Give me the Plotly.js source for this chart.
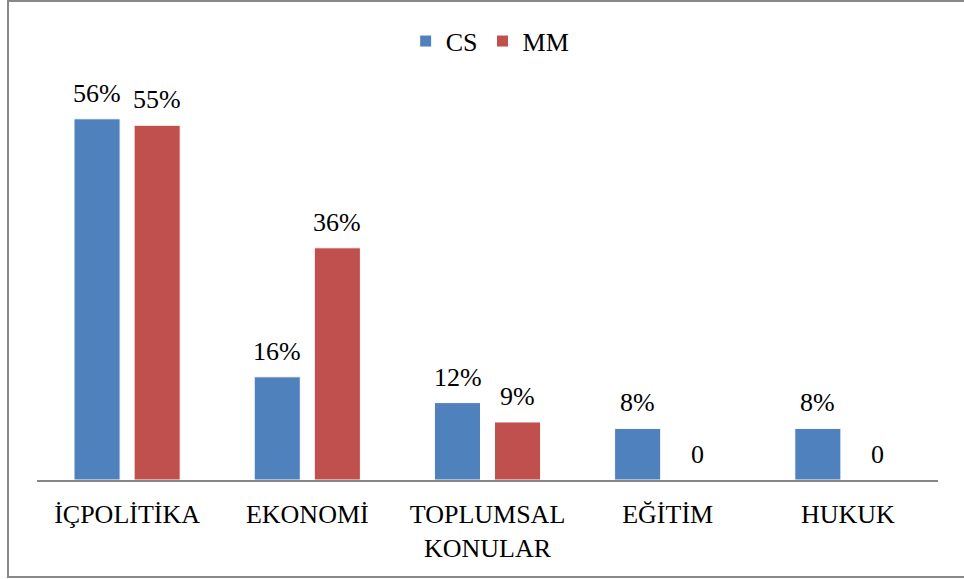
<!DOCTYPE html>
<html>
<head>
<meta charset="utf-8">
<script src="https://cdn.plot.ly/plotly-3.0.1.min.js"></script>
<style>
  html, body { margin: 0; padding: 0; background: #fff; }
  #chart { width: 964px; height: 579px; }
</style>
</head>
<body>
<div id="chart"></div>
<script>
const categories = ["İÇPOLİTİKA", "EKONOMİ", "TOPLUMSAL<br>KONULAR", "EĞİTİM", "HUKUK"];
const csValues = [56, 16, 12, 8, 8];
const mmValues = [55, 36, 9, 0, 0];
const csLabels = ["56%", "16%", "12%", "8%", "8%"];
const mmLabels = ["55%", "36%", "9%", "0", "0"];

const FONT = "Liberation Serif";
const BLUE = '#4F81BD';
const RED = '#C0504D';

const traces = [
  {
    type: 'bar', name: 'CS', x: categories, y: csValues,
    marker: { color: BLUE, line: { color: '#ffffff', width: 1 } },
    hoverinfo: 'skip'
  },
  {
    type: 'bar', name: 'MM', x: categories, y: mmValues,
    marker: { color: RED, line: { color: '#ffffff', width: 1 } },
    hoverinfo: 'skip'
  }
];

const annotations = [];
categories.forEach((c, i) => {
  annotations.push({
    x: c, y: csValues[i], xref: 'x', yref: 'y', text: csLabels[i],
    showarrow: false, xanchor: 'center', yanchor: 'bottom',
    xshift: -30, yshift: 9, font: { family: FONT, size: 26, color: '#000' }
  });
  annotations.push({
    x: c, y: mmValues[i], xref: 'x', yref: 'y', text: mmLabels[i],
    showarrow: false, xanchor: 'center', yanchor: 'bottom',
    xshift: 30, yshift: 9, font: { family: FONT, size: 26, color: '#000' }
  });
});

const layout = {
  width: 964, height: 579,
  margin: { l: 37, r: 26, t: 93, b: 99 },
  paper_bgcolor: '#ffffff', plot_bgcolor: '#ffffff',
  font: { family: FONT, size: 26, color: '#000' },
  barmode: 'group', bargap: 0.333, bargroupgap: 0.233,
  showlegend: true,
  legend: {
    orientation: 'h', x: 0.503, xanchor: 'center', y: 1.134, yanchor: 'middle',
    font: { family: FONT, size: 26, color: '#000' }, itemwidth: 30,
    bgcolor: 'rgba(0,0,0,0)'
  },
  xaxis: {
    showline: true, linecolor: '#868686', linewidth: 2,
    ticks: '', showgrid: false, zeroline: false,
    tickfont: { family: FONT, size: 26, color: '#000' },
    ticklabelstandoff: 10, fixedrange: true
  },
  yaxis: { visible: false, range: [0, 60], fixedrange: true },
  annotations: annotations,
  shapes: [
    { type: 'rect', xref: 'paper', yref: 'paper',
      x0: (8 - 37) / 901, x1: (990 - 37) / 901,
      y0: (480 - 577) / 387, y1: (480 - 1) / 387,
      line: { color: '#888888', width: 2 }, fillcolor: 'rgba(0,0,0,0)', layer: 'below' }
  ]
};

Plotly.newPlot('chart', traces, layout, { staticPlot: true, displayModeBar: false });
</script>
</body>
</html>
